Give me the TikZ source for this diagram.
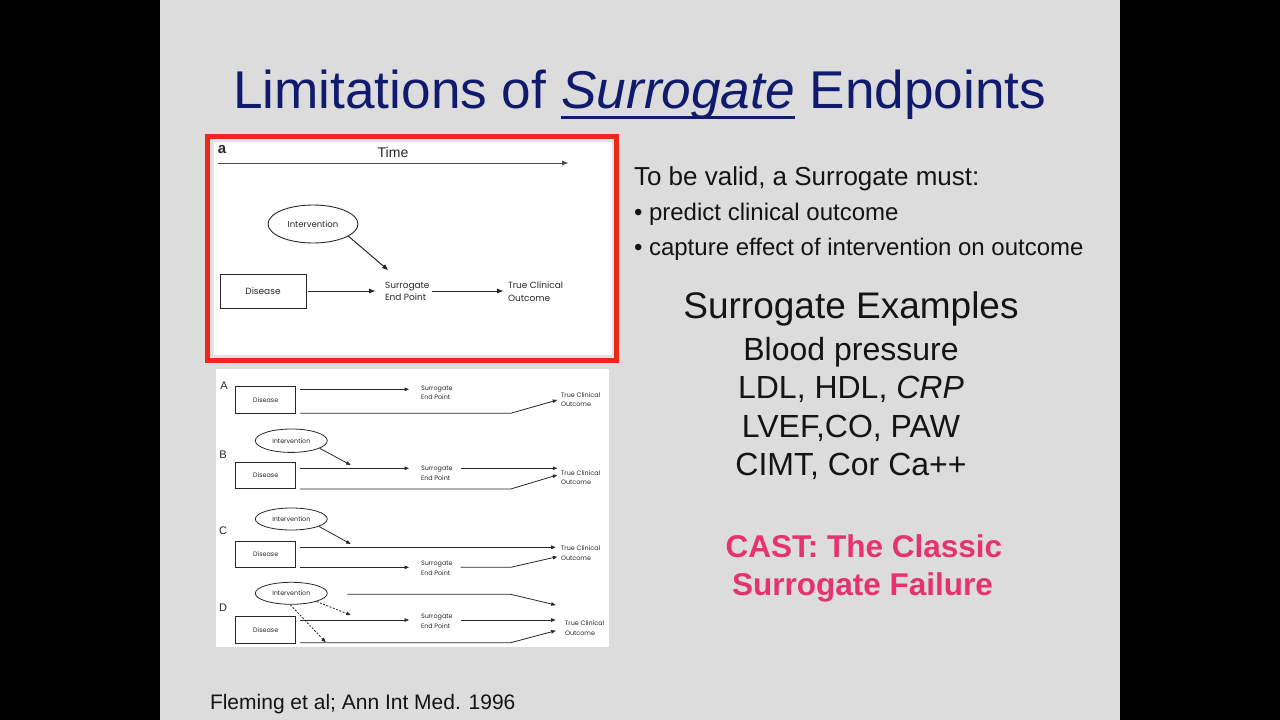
\documentclass[tikz,border=0pt]{standalone}
\usepackage{fontspec}
\setmainfont{Liberation Sans}
\newfontfamily\figfont{Poppins}
\usetikzlibrary{arrows.meta,shapes.geometric}
\definecolor{slidebg}{RGB}{220,220,220}
\definecolor{navy}{RGB}{17,27,110}
\definecolor{redbox}{RGB}{236,40,22}
\definecolor{castpink}{RGB}{230,50,110}
\definecolor{figline}{RGB}{40,40,40}
\definecolor{figedge}{RGB}{226,226,226}
\tikzset{
  txt/.style={inner sep=0pt, outer sep=0pt, text=black!92},
  figtxt/.style={inner sep=0pt, outer sep=0pt, text=figline, font=\figfont\fontsize{9}{12.5}\selectfont, align=left},
  smalltxt/.style={inner sep=0pt, outer sep=0pt, text=figline, font=\figfont\fontsize{6.4}{9.5}\selectfont, align=left},
  arra/.style={draw=figline, line width=1pt, -{Triangle[length=6pt,width=4.5pt]}},
  arrs/.style={draw=figline, line width=0.8pt, -{Triangle[length=4.5pt,width=3.5pt]}},
  dashs/.style={arrs, dashed, dash pattern=on 2pt off 1.5pt},
  bigbox/.style={draw=figline, line width=0.9pt, rectangle, inner sep=0pt, minimum width=86pt, minimum height=34pt, font=\figfont\fontsize{9}{11}\selectfont, text=figline},
  bigell/.style={draw=figline, line width=0.9pt, ellipse, inner sep=0pt, minimum width=90pt, minimum height=38pt, font=\figfont\fontsize{8.5}{10}\selectfont, text=figline},
  dbox/.style={draw=figline, line width=0.8pt, rectangle, inner sep=0pt, minimum width=60pt, minimum height=26.7pt, font=\figfont\fontsize{6.4}{8}\selectfont, text=figline},
  sell/.style={draw=figline, line width=0.8pt, ellipse, inner sep=0pt, minimum width=72pt, minimum height=22pt, font=\figfont\fontsize{6.4}{8}\selectfont, text=figline},
  plabel/.style={inner sep=0pt, text=figline, font=\fontsize{11}{12}\selectfont},
}
\begin{document}
\begin{tikzpicture}[x=1pt,y=-1pt]
\useasboundingbox (0,0) rectangle (1280,720);
\fill[black] (0,0) rectangle (1280,720);
\fill[slidebg] (160,0) rectangle (1120,720);

% title
\node[txt, text=navy, anchor=base west, font=\fontsize{53.2}{60}\selectfont] (t1) at (233,108) {Limitations of};
\node[txt, text=navy, anchor=base west, font=\fontsize{53.2}{60}\selectfont\itshape] (t2) at ([xshift=14.8pt]t1.base east) {Surrogate};
\node[txt, text=navy, anchor=base west, font=\fontsize{53.2}{60}\selectfont] (t3) at ([xshift=14.8pt]t2.base east) {Endpoints};
\draw[navy, line width=3pt] ([yshift=-9pt]t2.base west) -- ([yshift=-9pt]t2.base east);

% figure a (red frame)
\fill[figedge] (210,139) rectangle (614,358);
\fill[white] (214,142) rectangle (612,355);
\draw[redbox, line width=5pt] (207.5,136.5) rectangle (616.5,360.5);

\node[txt, font=\bfseries\fontsize{15}{15}\selectfont, text=figline] (la) at (222,150) {a};
\node[txt, font=\fontsize{14}{14}\selectfont, text=figline] (time) at (393,152) {Time};
\coordinate (t0) at (218,163);
\coordinate (tend) at (568,163);
\draw[arra, draw=black!70] (t0) -- (tend);

\node[bigell] (int) at (313,224) {Intervention};
\node[bigbox] (dis) at (263,291) {Disease};
\node[figtxt, anchor=west] (sur) at (385,291.5) {Surrogate\\End Point};
\node[figtxt, anchor=west] (tco) at (508,291.5) {True Clinical\\Outcome};
\coordinate (ia) at (388,270);
\coordinate (s2a) at (432,291);
\draw[arra] (int.-19) -- (ia);
\draw[arra] ([xshift=2pt]dis.east) -- ([xshift=-10pt,yshift=0.5pt]sur.west);
\draw[arra] (s2a) -- ([xshift=-5pt,yshift=0.5pt]tco.west);

% lower figure
\fill[white] (216,369) rectangle (609,647);

% Panel A
\node[plabel] (lA) at (224,386) {A};
\node[dbox] (disA) at (265.7,400) {Disease};
\node[smalltxt, anchor=west] (surA) at (421,393) {Surrogate\\End Point};
\node[smalltxt, anchor=west] (tcoA) at (561,399.5) {True Clinical\\Outcome};
\coordinate (a1s) at (300,389.3); \coordinate (a1e) at (409,389.3);
\draw[arrs] (a1s) -- (a1e);
\coordinate (a2s) at (300,413.3); \coordinate (a2k) at (510.7,413.3); \coordinate (a2e) at (557.3,400);
\draw[arrs] (a2s) -- (a2k) -- (a2e);

% Panel B
\node[plabel] (lB) at (223,455) {B};
\node[sell, minimum height=23.4pt] (intB) at (291.3,440.7) {Intervention};
\node[dbox] (disB) at (265.7,475.3) {Disease};
\node[smalltxt, anchor=west] (surB) at (421,473.5) {Surrogate\\End Point};
\node[smalltxt, anchor=west] (tcoB) at (561,477.5) {True Clinical\\Outcome};
\coordinate (b0e) at (350.7,465);
\draw[arrs] (intB.-15) -- (b0e);
\coordinate (b1s) at (300,468.3); \coordinate (b1e) at (409,468.3);
\draw[arrs] (b1s) -- (b1e);
\coordinate (b2s) at (460.7,468.3); \coordinate (b2e) at (557.3,468.3);
\draw[arrs] (b2s) -- (b2e);
\coordinate (b3s) at (300,489); \coordinate (b3k) at (510.7,489); \coordinate (b3e) at (557.3,475);
\draw[arrs] (b3s) -- (b3k) -- (b3e);

% Panel C
\node[plabel] (lC) at (223,531) {C};
\node[sell] (intC) at (291.3,519) {Intervention};
\node[dbox] (disC) at (265.7,554.3) {Disease};
\node[smalltxt, anchor=west] (tcoC) at (561,553.3) {True Clinical\\Outcome};
\node[smalltxt, anchor=west] (surC) at (421,568.3) {Surrogate\\End Point};
\coordinate (c0e) at (350.7,544);
\draw[arrs] (intC.-15) -- (c0e);
\coordinate (c1s) at (300,547.3); \coordinate (c1e) at (555.7,547.3);
\draw[arrs] (c1s) -- (c1e);
\coordinate (c2s) at (300,567.3); \coordinate (c2e) at (409,567.3);
\draw[arrs] (c2s) -- (c2e);
\coordinate (c3s) at (460.7,567.3); \coordinate (c3k) at (510.7,567.3); \coordinate (c3e) at (557.3,556.7);
\draw[arrs] (c3s) -- (c3k) -- (c3e);

% Panel D
\node[plabel] (lD) at (223,608) {D};
\node[sell] (intD) at (291.3,593.3) {Intervention};
\node[dbox] (disD) at (265.7,630) {Disease};
\node[smalltxt, anchor=west] (surD) at (421,621.3) {Surrogate\\End Point};
\node[smalltxt, anchor=west] (tcoD) at (565,628.3) {True Clinical\\Outcome};
\coordinate (d0s) at (347.3,594.3); \coordinate (d0k) at (510.7,594.3); \coordinate (d0e) at (555.7,605);
\draw[arrs] (d0s) -- (d0k) -- (d0e);
\coordinate (dd1) at (350.7,615);
\draw[dashs] (intD.-18) -- (dd1);
\coordinate (dd2) at (325.7,642.3);
\draw[dashs] (intD.-95) -- (dd2);
\coordinate (d1s) at (300,620); \coordinate (d1e) at (409,620);
\draw[arrs] (d1s) -- (d1e);
\coordinate (d2s) at (460.7,620); \coordinate (d2e) at (555.7,620);
\draw[arrs] (d2s) -- (d2e);
\coordinate (d3s) at (300,642.7); \coordinate (d3k) at (510.7,642.7); \coordinate (d3e) at (555.7,630.7);
\draw[arrs] (d3s) -- (d3k) -- (d3e);

% right text
\node[txt, anchor=base west, font=\fontsize{26}{30}\selectfont] (valid) at (634,185) {To be valid, a Surrogate must:};
\node[txt, anchor=base west, font=\fontsize{24}{28}\selectfont] (bul1) at (634,220) {• predict clinical outcome};
\node[txt, anchor=base west, font=\fontsize{24}{28}\selectfont] (bul2) at (634,255) {• capture effect of intervention on outcome};

\node[txt, anchor=base, font=\fontsize{37}{40}\selectfont] (exh) at (851,318) {Surrogate Examples};
\node[txt, anchor=base, font=\fontsize{32}{36}\selectfont] (ex1) at (851,360) {Blood pressure};
\node[txt, anchor=base, font=\fontsize{32}{36}\selectfont] (ex2) at (851,398) {LDL, HDL, \textit{CRP}};
\node[txt, anchor=base, font=\fontsize{32}{36}\selectfont] (ex3) at (851,437) {LVEF,CO, PAW};
\node[txt, anchor=base, font=\fontsize{32}{36}\selectfont] (ex4) at (851,475) {CIMT, Cor Ca++};

\node[txt, text=castpink, anchor=base, font=\bfseries\fontsize{31.5}{36}\selectfont] (cast1) at (864,557) {CAST: The Classic};
\node[txt, text=castpink, anchor=base, font=\bfseries\fontsize{31.5}{36}\selectfont] (cast2) at (862.5,595) {Surrogate Failure};

% citation
\node[txt, anchor=base west, font=\fontsize{21}{24}\selectfont] (cite) at (210,709) {Fleming et al; Ann Int Med. 1996};
\end{tikzpicture}
\end{document}
